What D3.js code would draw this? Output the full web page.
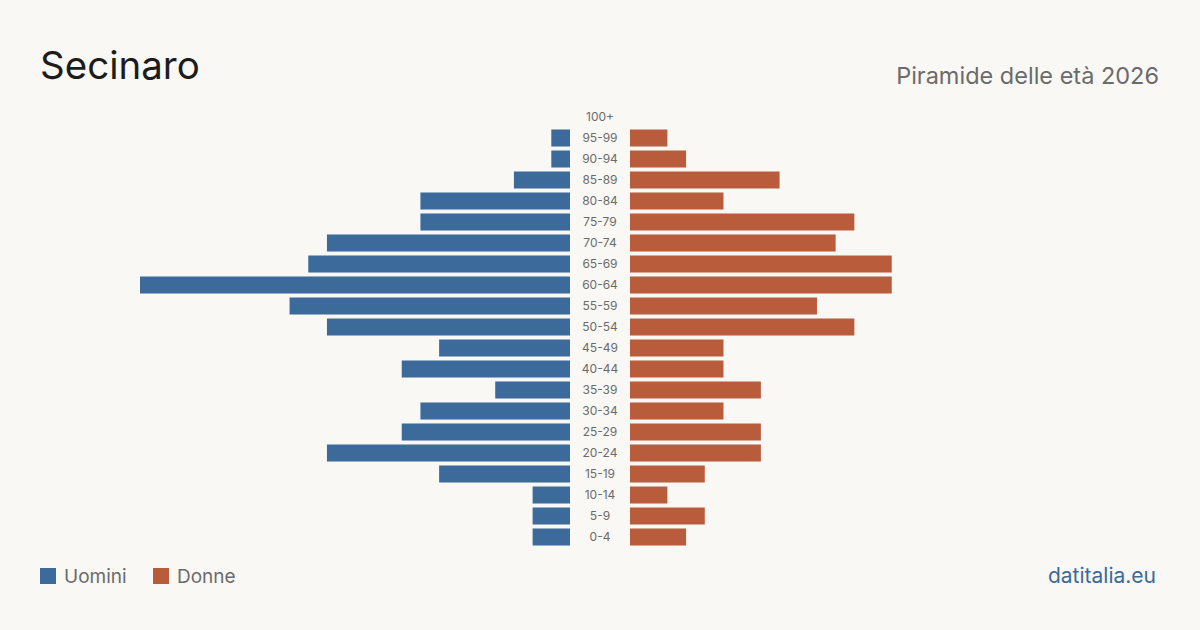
<!DOCTYPE html>
<html>
<head>
<meta charset="utf-8">
<script src="https://cdn.jsdelivr.net/npm/d3@7"></script>
<style>
  html, body { margin: 0; padding: 0; background: #f9f8f4; }
  svg { display: block; font-family: Inter, "Liberation Sans", sans-serif; }
</style>
</head>
<body>
<script>
// classi di età, dall'alto verso il basso
var ageGroups = ["100+", "95-99", "90-94", "85-89", "80-84", "75-79", "70-74", "65-69", "60-64", "55-59",
  "50-54", "45-49", "40-44", "35-39", "30-34", "25-29", "20-24", "15-19", "10-14", "5-9", "0-4"];
var men   = [0, 1, 1, 3, 8, 8, 13, 14, 23, 15, 13, 7, 9, 4, 8, 9, 13, 7, 2, 2, 2];
var women = [0, 2, 3, 8, 5, 12, 11, 14, 14, 10, 12, 5, 5, 7, 5, 7, 7, 4, 2, 4, 3];
var legendLabels = ["Uomini", "Donne"];

var width = 1200, height = 630;
var centerX = 600, gap = 30;
var blue = "#3b6a9b", orange = "#b95c3b";

var svg = d3.select("body").append("svg")
  .attr("width", width)
  .attr("height", height);

svg.append("rect").attr("width", width).attr("height", height).attr("fill", "#f9f8f4");

// titolo e sottotitolo
svg.append("text")
  .attr("x", 40).attr("y", 79)
  .attr("font-size", 38.5)
  .attr("fill", "#1c1c1c")
  .text("Secinaro");

svg.append("text")
  .attr("x", 1159).attr("y", 84)
  .attr("text-anchor", "end")
  .attr("font-size", 23.5)
  .attr("fill", "#6b6b6b")
  .text("Piramide delle età 2026");

var yScale = d3.scaleBand()
  .domain(ageGroups)
  .range([106.5, 547.5])
  .paddingInner(0.19)
  .paddingOuter(0.095);

var maxV = d3.max(men.concat(women));
var xScale = d3.scaleLinear()
  .domain([0, maxV])
  .range([0, 430]);

var g = svg.append("g");

// uomini a sinistra
g.selectAll(".men")
  .data(men)
  .enter().append("rect")
  .attr("class", "men")
  .attr("x", function(d) { return centerX - gap - xScale(d); })
  .attr("y", function(d, i) { return yScale(ageGroups[i]); })
  .attr("width", function(d) { return xScale(d); })
  .attr("height", yScale.bandwidth())
  .attr("fill", blue);

// donne a destra
g.selectAll(".women")
  .data(women)
  .enter().append("rect")
  .attr("class", "women")
  .attr("x", centerX + gap)
  .attr("y", function(d, i) { return yScale(ageGroups[i]); })
  .attr("width", function(d) { return xScale(d); })
  .attr("height", yScale.bandwidth())
  .attr("fill", orange);

// etichette centrali
g.selectAll(".age")
  .data(ageGroups)
  .enter().append("text")
  .attr("class", "age")
  .attr("x", centerX)
  .attr("y", function(d) { return yScale(d) + yScale.bandwidth() / 2; })
  .attr("dy", "0.35em")
  .attr("text-anchor", "middle")
  .attr("font-size", 12)
  .attr("fill", "#6b6b6b")
  .text(function(d) { return d; });

// legenda
var legend = svg.append("g");
var legendX = [40, 153];
legendLabels.forEach(function(label, i) {
  legend.append("rect")
    .attr("x", legendX[i]).attr("y", 568)
    .attr("width", 16).attr("height", 16)
    .attr("fill", i === 0 ? blue : orange);
  legend.append("text")
    .attr("x", legendX[i] + 24).attr("y", 583)
    .attr("font-size", 19)
    .attr("fill", "#6b6b6b")
    .text(label);
});

svg.append("text")
  .attr("x", 1156).attr("y", 583)
  .attr("text-anchor", "end")
  .attr("font-size", 21)
  .attr("fill", blue)
  .text("datitalia.eu");
</script>
</body>
</html>
